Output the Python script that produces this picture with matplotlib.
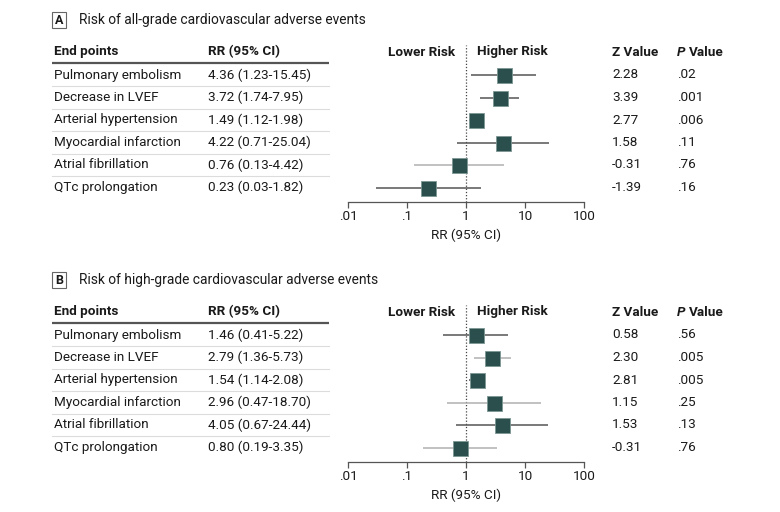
import matplotlib
matplotlib.use('Agg')
import matplotlib.pyplot as plt
from matplotlib.patches import Rectangle
from matplotlib.ticker import NullLocator

plt.rcParams['font.family'] = ['Roboto', 'DejaVu Sans']

endpoints = ["Pulmonary embolism", "Decrease in LVEF", "Arterial hypertension",
             "Myocardial infarction", "Atrial fibrillation", "QTc prolongation"]

rr_a = [4.36, 3.72, 1.49, 4.22, 0.76, 0.23]
lo_a = [1.23, 1.74, 1.12, 0.71, 0.13, 0.03]
hi_a = [15.45, 7.95, 1.98, 25.04, 4.42, 1.82]
z_a = [2.28, 3.39, 2.77, 1.58, -0.31, -1.39]
p_a = [".02", ".001", ".006", ".11", ".76", ".16"]

rr_b = [1.46, 2.79, 1.54, 2.96, 4.05, 0.80]
lo_b = [0.41, 1.36, 1.14, 0.47, 0.67, 0.19]
hi_b = [5.22, 5.73, 2.08, 18.70, 24.44, 3.35]
z_b = [0.58, 2.30, 2.81, 1.15, 1.53, -0.31]
p_b = [".56", ".005", ".005", ".25", ".13", ".76"]

ticks = [0.01, 0.1, 1, 10, 100]
tick_labels = [".01", ".1", "1", "10", "100"]

W, H = 780, 512
fig = plt.figure(figsize=(W / 100, H / 100), dpi=100)
fig.patch.set_facecolor('white')

ov = fig.add_axes([0, 0, 1, 1])
ov.set_xlim(0, W)
ov.set_ylim(H, 0)
ov.axis('off')

TXT = '#1a1a1a'
FS = 9.7
MARK = '#2b4f4c'
DARK = '#555555'
LIGHT = '#b0b0b0'


def draw_panel(letter, title, rr, lo, hi, z, p, off, line_colors):
    # panel letter box and title
    ov.add_patch(Rectangle((52, off + 12), 14, 16, fill=False, edgecolor='#666666', lw=0.8))
    ov.text(59, off + 20.5, letter, ha='center', va='center', fontsize=9,
            fontweight='bold', color=TXT)
    ov.text(79, off + 20, title, ha='left', va='center', fontsize=FS + 0.2, color=TXT)

    # headers
    hy = off + 52
    ov.text(54, hy, "End points", ha='left', va='center', fontsize=FS, fontweight='bold', color=TXT)
    ov.text(208, hy, "RR (95% CI)", ha='left', va='center', fontsize=FS, fontweight='bold', color=TXT)
    ov.text(455, hy, "Lower Risk", ha='right', va='center', fontsize=FS, fontweight='bold', color=TXT)
    ov.text(477, hy, "Higher Risk", ha='left', va='center', fontsize=FS, fontweight='bold', color=TXT)
    ov.text(612, hy, "Z Value", ha='left', va='center', fontsize=FS, fontweight='bold', color=TXT)
    ov.text(677, hy, "P", ha='left', va='center', fontsize=FS, fontweight='bold',
            fontstyle='italic', color=TXT)
    ov.text(689, hy, "Value", ha='left', va='center', fontsize=FS, fontweight='bold', color=TXT)
    ov.plot([52, 329], [off + 63, off + 63], color='#555555', lw=1.6, solid_capstyle='butt')

    y0, dy = 75, 22.5
    n = len(endpoints)
    for i in range(n):
        y = off + y0 + i * dy
        ov.text(54, y, endpoints[i], ha='left', va='center', fontsize=FS, color=TXT)
        ov.text(208, y, f"{rr[i]:.2f} ({lo[i]:.2f}-{hi[i]:.2f})", ha='left', va='center',
                fontsize=FS, color=TXT)
        ov.text(612, y, f"{z[i]:.2f}", ha='left', va='center', fontsize=FS, color=TXT)
        ov.text(677, y, p[i], ha='left', va='center', fontsize=FS, color=TXT)
        if i < n - 1:
            ov.plot([52, 329], [y + dy / 2, y + dy / 2], color='#dcdcdc', lw=0.8)

    # forest axes
    ax_top, ax_bot = off + 45, off + 202
    ax = fig.add_axes([348 / W, 1 - ax_bot / H, 236 / W, (ax_bot - ax_top) / H])
    ax.set_xscale('log')
    ax.set_xlim(0.01, 100)
    ax.set_ylim((ax_bot - off - y0) / dy, (ax_top - off - y0) / dy)
    ax.axvline(1, color='#444444', lw=0.9, ls=(0, (1, 1.5)))
    for i in range(n):
        ax.plot([lo[i], hi[i]], [i, i], color=line_colors[i], lw=1.1, solid_capstyle='butt')
        ax.plot([rr[i]], [i], marker='s', markersize=10.8, color=MARK,
                markeredgecolor='#7d9794', markeredgewidth=0.6)
    for s in ['top', 'right', 'left']:
        ax.spines[s].set_visible(False)
    ax.spines['bottom'].set_color('#555555')
    ax.spines['bottom'].set_linewidth(0.9)
    ax.set_yticks([])
    ax.set_xticks(ticks)
    ax.set_xticklabels(tick_labels)
    ax.xaxis.set_minor_locator(NullLocator())
    ax.tick_params(axis='x', direction='out', length=4, width=0.9, color='#555555',
                   labelsize=FS, labelcolor=TXT, pad=2)
    ax.patch.set_alpha(0)
    ov.text(466, off + 235, "RR (95% CI)", ha='center', va='center', fontsize=FS, color=TXT)


draw_panel("A", "Risk of all-grade cardiovascular adverse events", rr_a, lo_a, hi_a, z_a, p_a, 0,
           [DARK, DARK, DARK, DARK, LIGHT, DARK])
draw_panel("B", "Risk of high-grade cardiovascular adverse events", rr_b, lo_b, hi_b, z_b, p_b, 260,
           [DARK, LIGHT, DARK, LIGHT, DARK, LIGHT])

fig.savefig('out.png', dpi=100, facecolor='white')
